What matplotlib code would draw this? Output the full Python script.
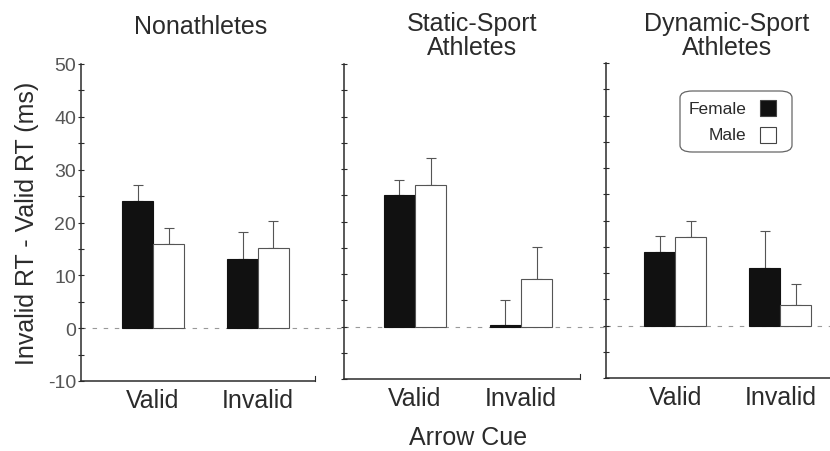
import matplotlib
matplotlib.use("Agg")
import matplotlib.pyplot as plt
from matplotlib.patches import FancyBboxPatch, Rectangle
import numpy as np

plt.rcParams['font.family'] = ['Liberation Sans', 'DejaVu Sans']
plt.rcParams['axes.unicode_minus'] = False

groups = ["Nonathletes", "Static-Sport\nAthletes", "Dynamic-Sport\nAthletes"]
cue_labels = ["Valid", "Invalid"]
female_mean = [[24.0, 13.1], [25.0, 0.3], [14.0, 10.9]]
female_err = [[3.1, 5.1], [3.0, 4.8], [3.1, 7.1]]
male_mean = [[16.0, 15.2], [27.0, 9.1], [16.9, 3.9]]
male_err = [[3.0, 5.0], [5.1, 6.0], [3.1, 4.0]]

ink = "#2b2b2b"
W, H = 830, 452
fig = plt.figure(figsize=(W / 100, H / 100), dpi=100)

# axes rectangles in pixel units (left, right, top, bottom)
boxes = [(81, 315, 65, 382), (344, 580, 65, 380), (606, 832, 64, 379)]
xlims = [(0.314, 2.543), (0.33, 2.557), (0.343, 2.49)]
title_xy = [(201, 27), (472, 36), (727, 36)]
bw = 0.295
axes = []
for i, (l, r, t, b) in enumerate(boxes):
    ax = fig.add_axes([l / W, 1 - b / H, (r - l) / W, (b - t) / H])
    axes.append(ax)
    x = np.arange(1, 3)
    ax.bar(x - bw / 2, female_mean[i], bw, color="#111111", edgecolor="#111111",
           linewidth=0.8, zorder=3)
    ax.bar(x + bw / 2, male_mean[i], bw, color="white", edgecolor="#555555",
           linewidth=0.8, zorder=3)
    ax.errorbar(x - bw / 2, female_mean[i], yerr=[np.zeros(2), female_err[i]],
                fmt="none", ecolor="#555555", elinewidth=0.8, capsize=3.6,
                capthick=0.8, zorder=2)
    ax.errorbar(x + bw / 2, male_mean[i], yerr=[np.zeros(2), male_err[i]],
                fmt="none", ecolor="#555555", elinewidth=0.8, capsize=3.6,
                capthick=0.8, zorder=2)
    # dashed zero reference continuing into the gap between panels
    ax.plot([0, 1.13], [0, 0], transform=ax.get_yaxis_transform(),
            ls=(0, (4, 6)), color="#999999", lw=0.8, clip_on=False, zorder=1)
    ax.set_ylim(-10, 50)
    ax.set_xlim(*xlims[i])
    ax.spines["top"].set_visible(False)
    ax.spines["right"].set_visible(False)
    for s in ("left", "bottom"):
        ax.spines[s].set_color(ink)
        ax.spines[s].set_linewidth(1.1)
    ax.set_yticks(np.arange(-10, 51, 10))
    ax.set_yticks(np.arange(-5, 50, 5), minor=True)
    ax.tick_params(axis="y", which="both", direction="inout", length=5,
                   width=0.8, color=ink, labelsize=14, labelcolor="#555555", pad=1)
    if i > 0:
        ax.tick_params(axis="y", labelleft=False)
    ax.set_xticks([1, 2])
    ax.set_xticklabels(cue_labels, fontsize=18, color=ink)
    ax.tick_params(axis="x", length=0, pad=5)
    # small upright tick at the end of the x axis
    ax.plot([1, 1], [0, 0.015], transform=ax.transAxes, color=ink, lw=0.8,
            clip_on=False)
    tx, ty = title_xy[i]
    fig.text(tx / W, 1 - ty / H, groups[i], fontsize=18, color=ink,
             ha="center", va="center", linespacing=1.05)

fig.text(27 / W, 1 - 223 / H, "Invalid RT - Valid RT (ms)", fontsize=18,
         color=ink, rotation=90, ha="center", va="center")
fig.text(468 / W, 1 - 438 / H, "Arrow Cue", fontsize=18, color=ink,
         ha="center", va="center")

# legend box
lx0, ly0, lx1, ly1 = 680, 92, 792, 153
box = FancyBboxPatch((lx0 / W, 1 - ly1 / H), (lx1 - lx0) / W, (ly1 - ly0) / H,
                     boxstyle="round,pad=0,rounding_size=0.015",
                     transform=fig.transFigure, facecolor="white",
                     edgecolor="#666666", linewidth=0.9, zorder=5)
fig.add_artist(box)
for j, (lab, fc) in enumerate([("Female", "#111111"), ("Male", "white")]):
    yc = 1 - (109 + j * 27) / H
    fig.text(746 / W, yc, lab, fontsize=12.5, color=ink, ha="right",
             va="center", zorder=6)
    fig.add_artist(Rectangle((760 / W, yc - 8 / H), 16 / W, 16 / H,
                             transform=fig.transFigure, facecolor=fc,
                             edgecolor="#444444", linewidth=0.8, zorder=6))

fig.savefig("out.png", dpi=100, facecolor="white")
